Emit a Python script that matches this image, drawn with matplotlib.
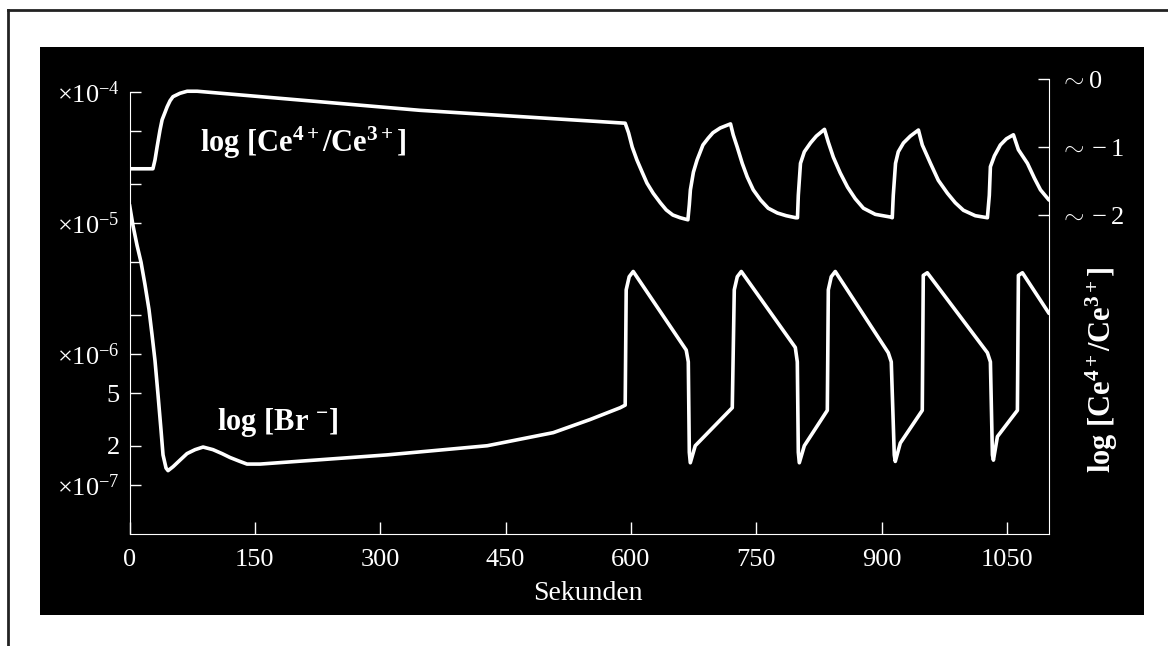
import numpy as np
import matplotlib
matplotlib.use("Agg")
import matplotlib.pyplot as plt
from matplotlib.patches import Rectangle
from matplotlib.lines import Line2D
from matplotlib.ticker import NullLocator

plt.rcParams['font.family'] = ['Liberation Serif', 'DejaVu Serif']
plt.rcParams['mathtext.fontset'] = 'custom'
plt.rcParams['mathtext.rm'] = 'Liberation Serif'
plt.rcParams['mathtext.it'] = 'Liberation Serif:italic'
plt.rcParams['mathtext.bf'] = 'Liberation Serif:bold'

# time in seconds, log10 [Ce4+/Ce3+] (right axis)
ce_t = [0, 28, 30.5, 33, 36.5, 39, 42.5, 45, 48.5, 52, 60.4, 69, 81, 347,
        593, 597, 601.4, 607, 613.3, 619, 626.5, 635, 642.1, 650, 658.8, 668,
        669.7, 671, 674.6, 679, 686, 692.3, 698, 706.7, 719,
        722.2, 727, 733, 739, 746.2, 755, 764.1, 775, 785.6, 797,
        799.1, 800.1, 802.7, 807.3, 814.7, 821.6, 831.4,
        836, 842, 850.2, 859, 868.2, 878, 892.2, 910.4,
        912.5, 913.7, 916.4, 919.7, 925.9, 934.1, 943.8,
        948.4, 958.2, 967.6, 978.5, 987.9, 997.6, 1011.8, 1026.3,
        1028.6, 1029.9, 1034.7, 1041.8, 1049, 1057.4,
        1063.4, 1074.2, 1082.6, 1089.8, 1100]
ce_log = [-1.32, -1.32, -1.19, -1.0, -0.75, -0.60, -0.49, -0.41, -0.32, -0.26,
          -0.21, -0.18, -0.18, -0.46,
          -0.65, -0.79, -1.0, -1.19, -1.37, -1.53, -1.68, -1.82, -1.925, -2.0,
          -2.04, -2.07,
          -1.85, -1.63, -1.37, -1.19, -0.97, -0.87, -0.79, -0.72, -0.66,
          -0.82, -1.0, -1.24, -1.44, -1.63, -1.78, -1.90, -1.97, -2.01, -2.04,
          -2.04, -1.71, -1.24, -1.07, -0.94, -0.84, -0.74,
          -0.93, -1.15, -1.38, -1.59, -1.76, -1.90, -1.99, -2.03,
          -2.04, -1.71, -1.24, -1.07, -0.94, -0.84, -0.75,
          -0.97, -1.24, -1.49, -1.68, -1.82, -1.93, -2.01, -2.04,
          -1.71, -1.29, -1.13, -0.97, -0.88, -0.82,
          -1.04, -1.24, -1.46, -1.63, -1.78]

# time in seconds, log10 [Br-] (left axis, mol/l)
br_t = [0, 4.2, 9, 13.8, 18.5, 23.3, 26.9, 30.5, 34.1, 37.7, 40.1, 43.7, 46.1,
        52.1, 60.4, 68.8, 78.4, 88, 99.9, 110.7, 120.3, 132.2, 140.6, 156.2,
        308, 428, 507, 551, 587, 593,
        594.2, 597.8, 602.6, 666, 668.5, 669.7, 670.9, 676.8, 721.1,
        723.5, 727.1, 731.9, 796.5, 798.9, 800.1, 801.3, 807.3, 834.8,
        836, 839.5, 844.3, 907.7, 911.3, 914.9, 916.1, 922.1, 948.4,
        949.6, 954.4, 1026.3, 1029.9, 1032.3, 1033.5, 1038.3, 1053.8, 1062.2,
        1063.4, 1068.2, 1100]
br_log = [-4.86, -5.02, -5.17, -5.30, -5.47, -5.66, -5.85, -6.05, -6.31, -6.58,
          -6.77, -6.87, -6.89, -6.86, -6.81, -6.76, -6.73, -6.71, -6.73, -6.76,
          -6.79, -6.82, -6.84, -6.84,
          -6.77, -6.70, -6.60, -6.50, -6.41, -6.39,
          -5.51, -5.41, -5.37, -5.97, -6.06, -6.75, -6.83, -6.70, -6.41,
          -5.51, -5.41, -5.37, -5.95, -6.06, -6.75, -6.83, -6.70, -6.43,
          -5.51, -5.41, -5.37, -5.99, -6.06, -6.77, -6.82, -6.68, -6.43,
          -5.40, -5.38, -5.99, -6.06, -6.77, -6.81, -6.63, -6.50, -6.43,
          -5.40, -5.38, -5.69]

x_ticks = [0, 150, 300, 450, 600, 750, 900, 1050]
left_ticks = [1e-4, 5e-5, 2e-5, 1e-5, 5e-6, 2e-6, 1e-6, 5e-7, 2e-7, 1e-7]
left_labels = [r'$\times10^{-4}$', '', '', r'$\times10^{-5}$', '', '',
               r'$\times10^{-6}$', '5', '2', r'$\times10^{-7}$']
right_ticks = [0, -1, -2]
right_labels = [r'$\sim0$', r'$\sim-1$', r'$\sim-2$']

W, H = 1168, 646
fig = plt.figure(figsize=(W / 100, H / 100), dpi=100)
fig.patch.set_facecolor('white')

# black panel and the scan frame lines
fig.add_artist(Rectangle((40 / W, 1 - 615 / H), 1104 / W, 568 / H,
                         transform=fig.transFigure, facecolor='black',
                         edgecolor='none', zorder=0))
fig.add_artist(Line2D([8 / W, 8 / W], [0, 1 - 10 / H], transform=fig.transFigure,
                      color='#222222', lw=2))
fig.add_artist(Line2D([8 / W, 1], [1 - 10 / H, 1 - 10 / H], transform=fig.transFigure,
                      color='#222222', lw=2))

ax = fig.add_axes([129.5 / W, 1 - 534 / H, (1049 - 129.5) / W, (534 - 79) / H])
ax.set_facecolor('none')
ax2 = ax.twinx()
ax2.set_facecolor('none')

ax.plot(br_t, 10 ** np.array(br_log), color='white', lw=2.6,
        solid_joinstyle='round', solid_capstyle='round')
ax.set_yscale('log')
ax.set_ylim(4.23e-8, 1.256e-4)
ax.set_xlim(0, 1100)

ax2.plot(ce_t, ce_log, color='white', lw=2.6,
         solid_joinstyle='round', solid_capstyle='round')
ax2.set_ylim(-6.69, 0)

# spines
for s in ['top', 'right']:
    ax.spines[s].set_visible(False)
for s in ['top', 'left', 'bottom']:
    ax2.spines[s].set_visible(False)
ax.spines['left'].set_color('white')
ax.spines['bottom'].set_color('white')
ax2.spines['right'].set_color('white')
ax.spines['left'].set_bounds(4.23e-8, 1e-4)
ax2.spines['right'].set_bounds(-6.69, 0)

ax.set_xticks(x_ticks)
ax.set_xticklabels([str(v) for v in x_ticks])
ax.set_yticks(left_ticks)
ax.set_yticklabels(left_labels)
ax.yaxis.set_minor_locator(NullLocator())
ax2.set_yticks(right_ticks)
ax2.set_yticklabels(right_labels)

ax.tick_params(axis='x', direction='in', length=9, width=1, colors='white',
               labelsize=19, pad=11)
ax.tick_params(axis='y', which='both', direction='in', length=8, width=1,
               colors='white', labelsize=19, pad=7)
ax2.tick_params(axis='y', direction='in', length=8, width=1, colors='white',
                labelsize=19, pad=8)

ax.text((200 - 129.5) / 919.5, (534 - 152) / 455,
        r'log [Ce$^{\mathbf{4+}}$/Ce$^{\mathbf{3+}}$]', transform=ax.transAxes,
        color='white', fontsize=22, fontweight='bold', ha='left', va='baseline')
ax.text((217 - 129.5) / 919.5, (534 - 430) / 455,
        r'log [Br $^{\mathbf{-}}$]', transform=ax.transAxes,
        color='white', fontsize=22, fontweight='bold', ha='left', va='baseline')

fig.text(1102 / W, 1 - 370 / H, r'log [Ce$^{\mathbf{4+}}$/Ce$^{\mathbf{3+}}$]',
         rotation=90, color='white', fontsize=22, fontweight='bold',
         ha='center', va='center')
fig.text(588 / W, 1 - 594 / H, 'Sekunden', color='white', fontsize=20,
         ha='center', va='center')

fig.savefig('out.png', dpi=100)
